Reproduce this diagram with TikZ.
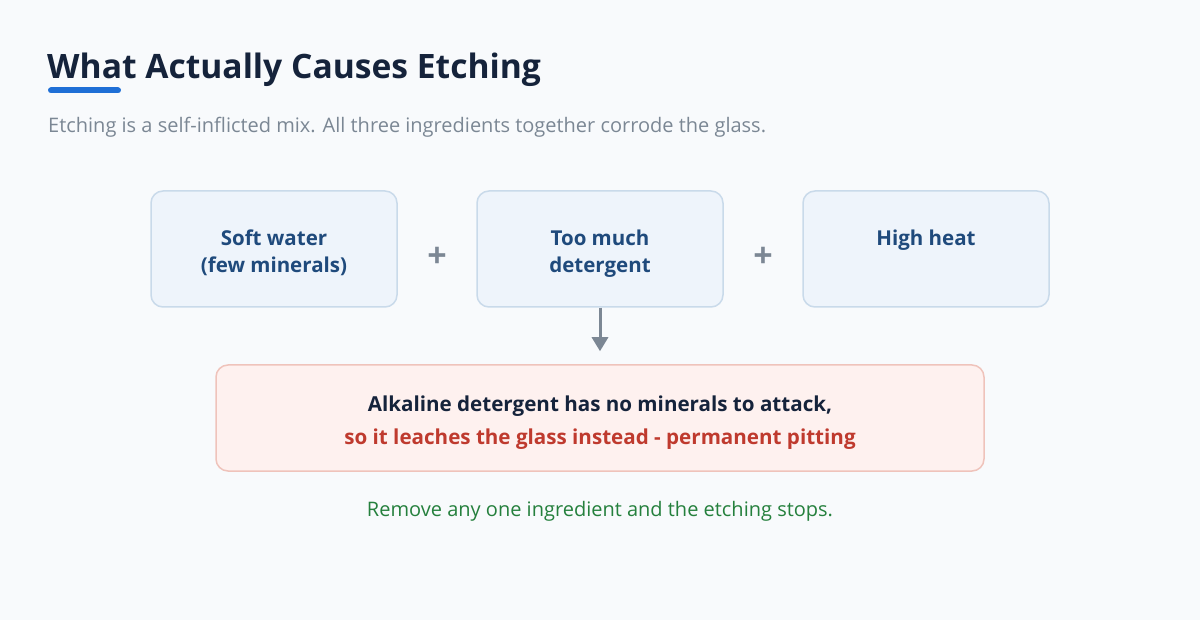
\documentclass[tikz,border=0pt]{standalone}
\usepackage{fontspec}
\setmainfont{Open Sans}
\usetikzlibrary{positioning,arrows.meta}

\definecolor{pagebg}{HTML}{F8FAFC}
\definecolor{titlecol}{HTML}{15233B}
\definecolor{barcol}{HTML}{1F6FD6}
\definecolor{subcol}{HTML}{7B8794}
\definecolor{ingfill}{HTML}{EEF4FB}
\definecolor{ingline}{HTML}{C9DAEA}
\definecolor{ingtextcol}{HTML}{1F4A7C}
\definecolor{pluscol}{HTML}{7C8794}
\definecolor{alertfill}{HTML}{FEF1EF}
\definecolor{alertline}{HTML}{EFC3BB}
\definecolor{alertred}{HTML}{BF3A2E}
\definecolor{okgreen}{HTML}{25803D}

\tikzset{
    ingbox/.style={draw=ingline, fill=ingfill, line width=1.5pt, rounded corners=12pt,
        minimum width=246pt, minimum height=116pt, inner sep=0pt},
    ingtext/.style={text=ingtextcol, font=\fontsize{20.5}{27}\selectfont\bfseries,
        align=center, inner sep=0pt, anchor=north},
    plussign/.style={text=pluscol, font=\fontsize{34}{34}\selectfont\bfseries},
    alertbox/.style={draw=alertline, fill=alertfill, line width=1.5pt, rounded corners=12pt,
        minimum width=768pt, minimum height=106pt, inner sep=0pt},
    flowarrow/.style={draw=pluscol, line width=3pt, -{Triangle[width=16pt,length=14pt]}}
}

\begin{document}
\begin{tikzpicture}[x=1pt, y=-1pt]

    % Page and background
    \fill[pagebg] (0,0) rectangle (1200,620);
    \useasboundingbox (0,0) rectangle (1200,620);

    % Heading with its blue bar
    \node[anchor=base west, inner sep=0pt, text=titlecol,
        font=\fontsize{33.6}{34}\selectfont\bfseries] (title) at (47,79) {What Actually Causes Etching};
    \draw[barcol, line width=6pt, line cap=round] (51,90.5) -- (118,90.5);
    \node[anchor=base west, inner sep=0pt, text=subcol,
        font=\fontsize{20}{22}\selectfont] (subtitle) at (48,133) {Etching is a self-inflicted mix. All three ingredients together corrode the glass.};

    % The three ingredients
    \node[ingbox] (soft) at (274,249) {};
    \node[ingbox] (mix) at (600,249) {};
    \node[ingbox] (heat) at (926,249) {};

    \node[ingtext, below=39pt of soft.north] (softtext) {Soft water\\(few minerals)};
    \node[ingtext, below=39pt of mix.north] (mixtext) {Too much\\detergent};
    \node[ingtext, below=39pt of heat.north] (heattext) {High heat};

    % Plus signs between the boxes
    \node[plussign] (plusa) at (437,257) {+};
    \node[plussign] (plusb) at (763,257) {+};

    % The result
    \node[alertbox] (alert) at (600,418) {};
    \node[anchor=base, inner sep=0pt, text=titlecol,
        font=\fontsize{20.6}{22}\selectfont\bfseries] (cause) at (600,411) {Alkaline detergent has no minerals to attack,};
    \node[anchor=base, inner sep=0pt, text=alertred,
        font=\fontsize{20.6}{22}\selectfont\bfseries] (effect) at (600,444) {so it leaches the glass instead - permanent pitting};

    % Arrow from the mix down to the result
    \draw[flowarrow, shorten >=13pt] (mix.south) -- (alert.north);

    % Closing note
    \node[anchor=base, inner sep=0pt, text=okgreen,
        font=\fontsize{20}{22}\selectfont] (note) at (600,516) {Remove any one ingredient and the etching stops.};

\end{tikzpicture}
\end{document}
